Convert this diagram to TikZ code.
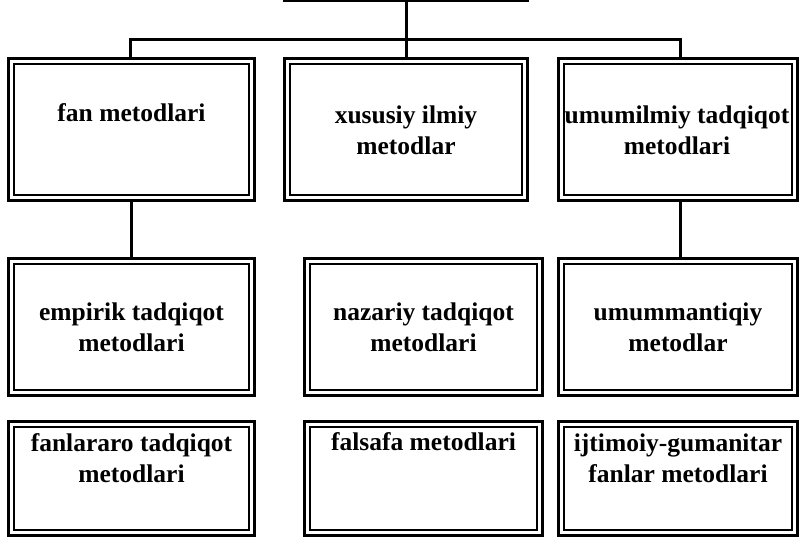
\documentclass[tikz,border=0pt]{standalone}
\usepackage{fontspec}
\setmainfont{Liberation Serif}
\begin{document}
\begin{tikzpicture}[x=1pt,y=-1pt,
  dbox/.style={draw, double, line width=2.7pt, double distance=3pt, inner sep=0pt, rectangle},
  conn/.style={line width=3pt},
  lbl/.style={font=\fontsize{25.5}{31}\selectfont\bfseries, align=center, inner sep=0pt}]
\useasboundingbox (0,0) rectangle (800,537);
% boxes
\node[dbox, minimum width=237.8pt, minimum height=75.8pt] (top) at (406,-40) {};
\node[dbox, minimum width=240.8pt, minimum height=136.8pt] (b1) at (131.5,129.5) {};
\node[dbox, minimum width=237.8pt, minimum height=136.8pt] (b2) at (406,129.5) {};
\node[dbox, minimum width=233.8pt, minimum height=136.8pt] (b3) at (678,129.5) {};
\node[dbox, minimum width=240.8pt, minimum height=131.8pt] (b4) at (131.5,327) {};
\node[dbox, minimum width=232.8pt, minimum height=131.8pt] (b5) at (423.5,327) {};
\node[dbox, minimum width=233.8pt, minimum height=131.8pt] (b6) at (678,327) {};
\node[dbox, minimum width=240.8pt, minimum height=108.8pt] (b7) at (131.5,478.5) {};
\node[dbox, minimum width=232.8pt, minimum height=108.8pt] (b8) at (423.5,478.5) {};
\node[dbox, minimum width=233.8pt, minimum height=108.8pt] (b9) at (678,478.5) {};
% labels
\node[lbl] (t1) at (131.5,113) {fan metodlari};
\node[lbl] (t2) at (406,130) {xususiy ilmiy\\metodlar};
\node[lbl] (t3) at (677,130) {umumilmiy tadqiqot\\metodlari};
\node[lbl] (t4) at (131.5,327) {empirik tadqiqot\\metodlari};
\node[lbl] (t5) at (423.5,327) {nazariy tadqiqot\\metodlari};
\node[lbl] (t6) at (678,327) {umummantiqiy\\metodlar};
\node[lbl] (t7) at (131.5,458) {fanlararo tadqiqot\\metodlari};
\node[lbl] (t8) at (423.5,442) {falsafa metodlari};
\node[lbl] (t9) at (678,458) {ijtimoiy-gumanitar\\fanlar metodlari};
% connectors
\coordinate (j) at (406,40);
\coordinate (jl) at (130,40);
\coordinate (jr) at (680,40);
\draw[conn, shorten <=1.5pt] (top.south) -- (j);
\draw[conn, line cap=rect] (jl) -- (jr);
\draw[conn, shorten >=1.5pt] (jl) -- (jl |- b1.north);
\draw[conn, shorten >=1.5pt] (j) -- (b2.north);
\draw[conn, shorten >=1.5pt] (jr) -- (jr |- b3.north);
\draw[conn, shorten >=1.5pt, shorten <=1.5pt] (b1.south) -- (b4.north);
\draw[conn, shorten >=1.5pt, shorten <=1.5pt] (b3.south -| jr) -- (jr |- b6.north);
\end{tikzpicture}
\end{document}
